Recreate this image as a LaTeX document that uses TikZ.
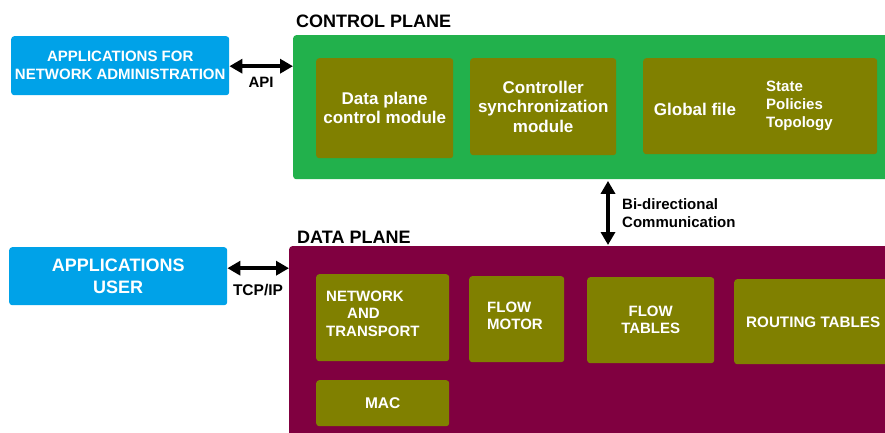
\documentclass[tikz,border=0pt]{standalone}
\usepackage{fontspec}
\setmainfont{Liberation Sans}
\usetikzlibrary{arrows.meta,calc}
\definecolor{appblue}{RGB}{0,162,232}
\definecolor{cpgreen}{RGB}{34,177,76}
\definecolor{boxolive}{RGB}{128,128,0}
\definecolor{dpmaroon}{RGB}{128,0,64}
\newcommand\fsz[2]{\fontsize{#1}{#2}\selectfont\bfseries}
\tikzset{
  appbox/.style={fill=appblue, rounded corners=3pt, text=white, inner sep=0pt, anchor=north west, align=center},
  planebox/.style={rounded corners=3pt, inner sep=0pt, anchor=north west},
  modbox/.style={fill=boxolive, rounded corners=3pt, text=white, inner sep=0pt, anchor=north west, align=center},
  wtext/.style={text=white, inner sep=0pt},
  btext/.style={text=black, inner sep=0pt},
  biarrow/.style={line width=4.5pt, {Triangle[length=13pt,width=14pt]}-{Triangle[length=13pt,width=14pt]}},
}
\begin{document}
\begin{tikzpicture}[x=1pt,y=-1pt]
\useasboundingbox (0,0) rectangle (885,433);
\clip (0,0) rectangle (885,433);

% control plane
\node[btext, anchor=west, font={\fsz{18}{21}}] (cptitle) at (296,21) {CONTROL PLANE};
\node[planebox, fill=cpgreen, minimum width=610, minimum height=144] (cp) at (293,35) {};
\node[modbox, minimum width=137, minimum height=100, font={\fsz{17}{19}}] (dpcm) at (316,58) {Data plane\\control module};
\node[modbox, minimum width=146, minimum height=97, font={\fsz{17}{19.5}}] (csm) at (470,58) {Controller\\synchronization\\module};
\node[modbox, minimum width=234, minimum height=96] (gf) at (643,58) {};
\node[wtext, anchor=center, font={\fsz{17}{19}}] (gftext) at (695,109) {Global file};
\node[wtext, anchor=west, align=left, font={\fsz{15}{18}}] (gfitems) at (766,106) {State\\Policies\\Topology};

% applications for network administration
\node[appbox, minimum width=218, minimum height=59, font={\fsz{15}{18}}] (app1) at (11,36) {APPLICATIONS FOR\\NETWORK ADMINISTRATION};
\coordinate (apiL) at ([yshift=-0.5pt]app1.east);
\draw[biarrow] (apiL) -- (apiL -| cp.west);
\node[btext, font={\fsz{15}{18}}] (api) at (261,82) {API};

% data plane
\node[btext, anchor=west, font={\fsz{18}{21}}] (dptitle) at (297,237) {DATA PLANE};
\node[planebox, fill=dpmaroon, minimum width=620, minimum height=200] (dp) at (289,246) {};

\node[appbox, minimum width=218, minimum height=58, font={\fsz{18}{22}}] (app2) at (9,247) {APPLICATIONS\\USER};
\coordinate (tcpL) at ([yshift=8pt]app2.east);
\draw[biarrow] (tcpL) -- (tcpL -| dp.west);
\node[btext, font={\fsz{15.5}{18}}] (tcp) at (258,290) {TCP/IP};

% bidirectional
\coordinate (bx) at (608,200);
\draw[biarrow] ([yshift=-1.5pt]bx |- cp.south) -- ([yshift=1pt]bx |- dp.north);
\node[btext, anchor=west, align=left, font={\fsz{15}{18}}] (bidir) at (622,213) {Bi-directional\\Communication};

% data plane modules
\node[modbox, minimum width=133, minimum height=87] (nt) at (316,274) {};
\node[wtext, anchor=west, align=left, font={\fsz{15}{17.5}}] (nttext) at (326,313.5) {NETWORK\\\hspace*{21pt}AND\\TRANSPORT};
\node[modbox, minimum width=133, minimum height=46, font={\fsz{15.5}{18}}] (mac) at (316,380) {MAC};
\node[modbox, minimum width=95, minimum height=86] (fm) at (469,276) {};
\node[wtext, anchor=west, align=left, font={\fsz{15}{17}}] (fmtext) at (487,315.5) {FLOW\\MOTOR};
\node[modbox, minimum width=127, minimum height=86, font={\fsz{15}{17}}] (ft) at (587,277) {FLOW\\TABLES};
\node[modbox, minimum width=170, minimum height=85] (rt) at (734,279) {};
\node[wtext, anchor=west, font={\fsz{15.2}{18}}] (rttext) at (746,322) {ROUTING TABLES};
\end{tikzpicture}
\end{document}
